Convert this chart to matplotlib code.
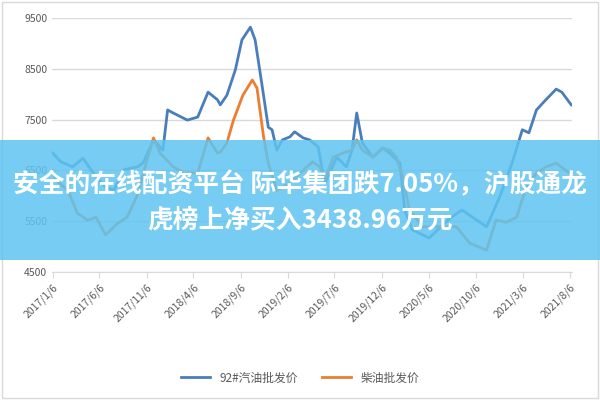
import matplotlib
matplotlib.use("Agg")
import matplotlib.pyplot as plt
import pandas as pd
from matplotlib.patches import Rectangle

plt.rcParams['font.family'] = ['Noto Sans CJK SC', 'DejaVu Sans']

# months since 2017-01-06
gas_m = [0,0.85,2.1,3.2,4.3,5.6,6.5,7.5,9.0,9.6,10.7,11.7,12.2,12.8,14.3,15.4,16.5,17.5,17.8,18.5,19.4,20.1,21.0,21.5,22.2,22.9,23.3,23.8,24.4,25.2,25.7,26.6,27.3,28.2,28.9,30.2,31.2,31.8,32.3,32.9,34.0,35.1,35.8,36.9,37.4,38.2,40.0,42.2,43.5,44.6,46.1,47.5,48.8,49.9,50.6,51.4,52.4,53.5,54.1,55.1]
gas_v = [6840,6670,6570,6740,6450,6170,6110,6510,6570,6650,7100,6900,7690,7630,7490,7550,8040,7890,7790,7980,8480,9070,9320,9070,8220,7350,7300,6900,7100,7160,7260,7140,7100,6960,6250,6760,6570,6900,7630,7040,6760,6940,6840,6640,5720,5330,5170,5560,5720,5580,5390,5980,6640,7300,7240,7690,7890,8100,8040,7790]
dsl_m = [0,0.3,1.6,2.6,3.7,4.6,5.6,6.9,7.9,9.0,10.1,10.7,11.4,12.8,13.9,15.4,16.5,17.5,17.8,18.5,19.2,20.2,21.2,21.7,22.4,22.9,23.8,25.2,26.6,27.6,28.4,28.9,29.8,30.8,31.8,32.3,32.9,34.0,35.0,35.8,36.5,37.2,37.9,39.3,42.9,44.3,46.1,47.1,48.2,49.3,50.3,51.4,52.4,53.5,54.9]
dsl_v = [6500,6310,6110,5660,5520,5580,5230,5460,5580,6020,6760,7140,6840,6570,6450,6450,7140,6840,6860,7040,7490,7980,8280,8120,7160,6640,6110,6250,6500,6670,6570,6310,6760,6840,6900,7100,6900,6760,6940,6900,6760,6370,5720,5390,5390,5070,4930,5520,5480,5580,6170,6450,6570,6640,6450]
tick_labels = ['2017/1/6','2017/6/6','2017/11/6','2018/4/6','2018/9/6','2019/2/6','2019/7/6','2019/12/6','2020/5/6','2020/10/6','2021/3/6','2021/8/6']
series_names = ['92#汽油批发价', '柴油批发价']
title = '安全的在线配资平台 际华集团跌7.05%，沪股通龙\n虎榜上净买入3438.96万元'

start = pd.Timestamp('2017-01-06')
to_dates = lambda ms: [start + pd.Timedelta(days=m * 30.44) for m in ms]
ticks = [pd.Timestamp(s) for s in tick_labels]

fig = plt.figure(figsize=(6, 4), dpi=100)
ax = fig.add_axes([0.087, 0.32, 0.866, 0.635])
ax.plot(to_dates(gas_m), gas_v, color='#4a7ebb', lw=2, label=series_names[0])
ax.plot(to_dates(dsl_m), dsl_v, color='#ed7d31', lw=2, label=series_names[1])
ax.set_ylim(4500, 9500)
ax.set_yticks(range(4500, 9501, 1000))
ax.set_xlim(ticks[0] - pd.Timedelta(days=2), ticks[-1] + pd.Timedelta(days=6))
ax.set_xticks(ticks)
ax.set_xticklabels(tick_labels, rotation=45, ha='right', rotation_mode='anchor')
ax.tick_params(axis='x', length=4, color='#d9d9d9', labelsize=7.5, labelcolor='#595959')
ax.tick_params(axis='y', length=0, labelsize=7.5, labelcolor='#595959')
ax.grid(axis='y', color='#d9d9d9', lw=1)
ax.set_axisbelow(True)
for s in ['top', 'right', 'left']:
    ax.spines[s].set_visible(False)
ax.spines['bottom'].set_color('#d9d9d9')
leg = fig.legend(loc='center', bbox_to_anchor=(0.5, 0.055), ncol=2, frameon=False,
                 fontsize=8.5, handlelength=2.5)
for t in leg.get_texts():
    t.set_color('#595959')

fig.patches.append(Rectangle((0.003, 0.005), 0.994, 0.99, transform=fig.transFigure,
                             fill=False, edgecolor='#d9d9d9', lw=1))
fig.patches.append(Rectangle((0, 1 - 260/400), 1, 120/400, transform=fig.transFigure,
                             facecolor='#5ec4f0', alpha=0.85, edgecolor='none', zorder=5))
fig.text(0.5, 1 - 202/400, title, ha='center', va='center', color='white',
         fontsize=18.5, fontweight='bold', linespacing=1.4, zorder=6)
fig.savefig('out.png', dpi=100)
